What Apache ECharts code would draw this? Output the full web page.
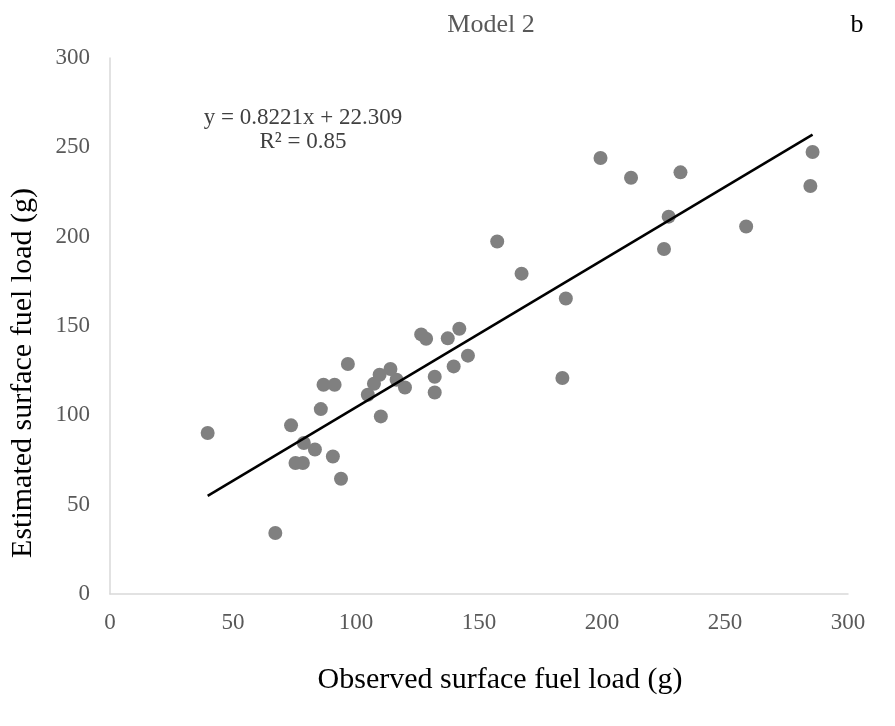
<!DOCTYPE html>
<html>
<head>
<meta charset="utf-8">
<script src="https://cdn.jsdelivr.net/npm/echarts@6/dist/echarts.min.js"></script>
<style>
  html, body { margin: 0; padding: 0; background: #fff; }
  #chart { width: 895px; height: 726px; }
</style>
</head>
<body>
<div id="chart"></div>
<script>
// Observed vs. estimated surface fuel load (g), Model 2
var observed = [
  39.7, 67.2, 73.6, 78.8, 75.4, 78.4, 83.3, 85.7, 86.8, 91.3,
  90.6, 93.9, 96.7, 104.8, 107.3, 109.6, 110.1, 114.0, 116.5, 119.9,
  126.5, 128.5, 132.0, 132.0, 137.3, 139.7, 142.0, 145.5, 157.4, 167.3,
  185.3, 183.9, 199.4, 211.8, 231.9, 227.1, 225.2, 258.6, 285.6, 284.7
];
var estimated = [
  90.1, 34.1, 94.4, 84.5, 73.3, 73.3, 80.9, 103.5, 117.1, 117.1,
  77.0, 64.5, 128.7, 111.5, 117.7, 122.7, 99.4, 125.9, 119.9, 115.6,
  145.3, 142.9, 121.6, 112.8, 143.1, 127.4, 148.5, 133.4, 197.3, 179.3,
  165.4, 120.9, 244.0, 233.0, 236.0, 211.2, 193.1, 205.7, 247.4, 228.4
];
var axisTicks = [0, 50, 100, 150, 200, 250, 300];

// Linear trend: y = 0.8221x + 22.309, R² = 0.85
var slope = 0.8221, intercept = 22.309, r2 = 0.85;

var points = observed.map(function (x, i) { return [x, estimated[i]]; });
var xMin = Math.min.apply(null, observed);
var xMax = Math.max.apply(null, observed);
var trend = [[xMin, slope * xMin + intercept], [xMax, slope * xMax + intercept]];

var serif = '"Liberation Serif", "Times New Roman", serif';
var chart = echarts.init(document.getElementById('chart'));
chart.setOption({
  animation: false,
  backgroundColor: '#ffffff',
  textStyle: { fontFamily: serif },
  graphic: [
    { type: 'text', x: 491, y: 25, style: {
        text: 'Model 2', textAlign: 'center', textVerticalAlign: 'middle',
        font: '26px ' + serif, fill: '#595959' } },
    { type: 'text', x: 857, y: 25, style: {
        text: 'b', textAlign: 'center', textVerticalAlign: 'middle',
        font: '26px ' + serif, fill: '#000000' } },
    { type: 'text', x: 303, y: 118, style: {
        text: 'y = ' + slope + 'x + ' + intercept, textAlign: 'center', textVerticalAlign: 'middle',
        font: '23px ' + serif, fill: '#404040' } },
    { type: 'text', x: 303, y: 142, style: {
        text: 'R² = ' + r2, textAlign: 'center', textVerticalAlign: 'middle',
        font: '23px ' + serif, fill: '#404040' } }
  ],
  grid: { left: 109, right: 47, top: 58, bottom: 132, containLabel: false },
  xAxis: {
    type: 'value', min: axisTicks[0], max: axisTicks[axisTicks.length - 1], interval: 50,
    name: 'Observed surface fuel load (g)', nameLocation: 'middle', nameGap: 71,
    nameTextStyle: { fontFamily: serif, fontSize: 30, color: '#000000', padding: [0, 0, 0, 42] },
    axisLine: { show: true, lineStyle: { color: '#d9d9d9', width: 1.5 } },
    axisTick: { show: false },
    splitLine: { show: false },
    axisLabel: { margin: 17, fontFamily: serif, fontSize: 23, color: '#595959' }
  },
  yAxis: {
    type: 'value', min: axisTicks[0], max: axisTicks[axisTicks.length - 1], interval: 50,
    name: 'Estimated surface fuel load (g)', nameLocation: 'middle', nameGap: 72,
    nameTextStyle: { fontFamily: serif, fontSize: 30, color: '#000000', padding: [0, 94, 0, 0] },
    axisLine: { show: true, lineStyle: { color: '#d9d9d9', width: 1.5 } },
    axisTick: { show: false },
    splitLine: { show: false },
    axisLabel: { margin: 20, fontFamily: serif, fontSize: 23, color: '#595959' }
  },
  series: [
    {
      type: 'scatter', data: points, symbol: 'circle', symbolSize: 14,
      itemStyle: { color: '#808080', opacity: 1 }, z: 2
    },
    {
      type: 'line', data: trend, symbol: 'none', silent: true,
      lineStyle: { color: '#000000', width: 2.5 }, z: 3
    }
  ]
});
</script>
</body>
</html>
